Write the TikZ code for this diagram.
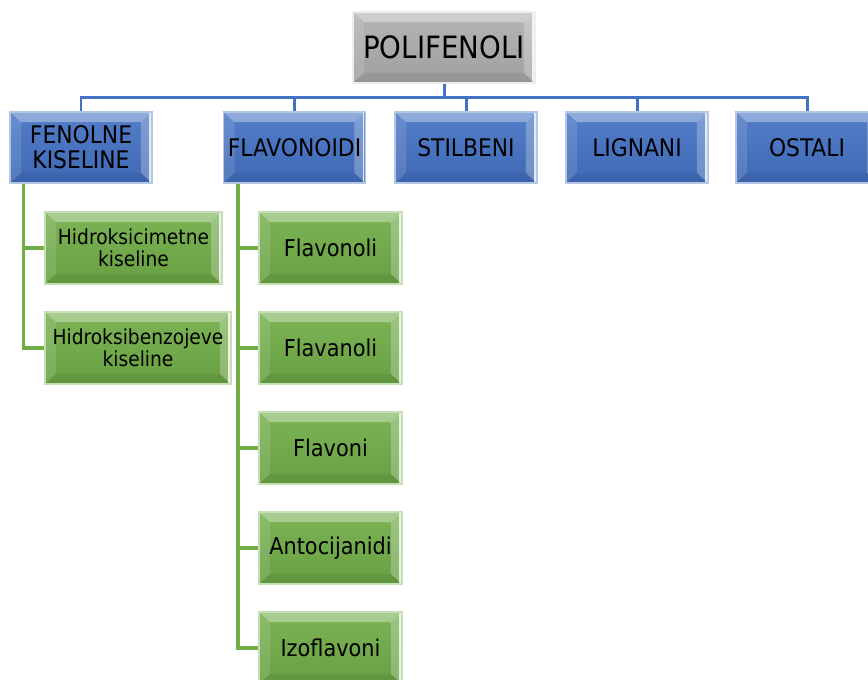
\documentclass[tikz,border=0pt]{standalone}
\usepackage{fontspec}
\setmainfont{DejaVu Sans Condensed}
\usepackage{tikz}
\usetikzlibrary{positioning}
\usepackage{xcolor}
\definecolor{pfblue}{RGB}{68,114,196}
\definecolor{pfgreen}{RGB}{112,173,71}
\definecolor{pfgray}{RGB}{168,168,168}
\tikzstyle{bevel} = [path picture={
  \fill[white,opacity=0.35] (path picture bounding box.north west) -- (path picture bounding box.north east) -- ([shift={(-0.22cm,-0.2cm)}]path picture bounding box.north east) -- ([shift={(0.22cm,-0.2cm)}]path picture bounding box.north west) -- cycle;
  \fill[white,opacity=0.12] (path picture bounding box.north west) -- (path picture bounding box.south west) -- ([shift={(0.22cm,0.2cm)}]path picture bounding box.south west) -- ([shift={(0.22cm,-0.2cm)}]path picture bounding box.north west) -- cycle;
  \fill[white,opacity=0.25] (path picture bounding box.north east) -- (path picture bounding box.south east) -- ([shift={(-0.22cm,0.2cm)}]path picture bounding box.south east) -- ([shift={(-0.22cm,-0.2cm)}]path picture bounding box.north east) -- cycle;
  \draw[white,opacity=0.8,line width=1pt] ([xshift=-0.04cm]path picture bounding box.north east) -- ([xshift=-0.04cm]path picture bounding box.south east);
  \fill[black,opacity=0.06] (path picture bounding box.south west) -- (path picture bounding box.south east) -- ([shift={(-0.22cm,0.2cm)}]path picture bounding box.south east) -- ([shift={(0.22cm,0.2cm)}]path picture bounding box.south west) -- cycle;
}]
\tikzstyle{rootbox} = [rectangle, bevel, minimum width=3.64cm, minimum height=1.42cm, inner sep=0pt, text centered, draw=white!80!pfgray, line width=0.6pt, top color=pfgray!85!white, bottom color=pfgray!95!black, font=\fontsize{17.5}{19}\selectfont]
\tikzstyle{groupbox} = [rectangle, bevel, minimum width=2.84cm, minimum height=1.42cm, inner sep=0pt, align=center, draw=pfblue!40!white, line width=0.6pt, top color=pfblue!92!white, bottom color=pfblue!92!black, font=\fontsize{13.8}{14.4}\selectfont]
\tikzstyle{subbox} = [rectangle, bevel, minimum width=2.86cm, minimum height=1.44cm, inner sep=0pt, align=center, draw=pfgreen!40!white, line width=0.6pt, top color=pfgreen!92!white, bottom color=pfgreen!92!black, font=\fontsize{13.2}{14}\selectfont]
\tikzstyle{bline} = [line width=1.7pt, color=pfblue]
\tikzstyle{gline} = [line width=2pt, color=pfgreen]

\begin{document}
\begin{tikzpicture}[x=0.02cm, y=-0.02cm]
\clip (0,0) rectangle (868,679);
\fill[white] (0,0) rectangle (868,679);
% root
\node[rootbox] (poli) at (444,47.5) {POLIFENOLI};

% main groups
\node[groupbox] (fen) at (81,147.5) {FENOLNE\\KISELINE};
\node[groupbox] (flav) at (294.5,147.5) {FLAVONOIDI};
\node[groupbox] (stil) at (466,147.5) {STILBENI};
\node[groupbox] (lign) at (637,147.5) {LIGNANI};
\node[groupbox] (ost) at (807,147.5) {OSTALI};

\foreach \g in {fen,flav,stil,lign,ost}
  \draw[bline] (poli.south) -- ++(0,14) -| (\g.north);

% phenolic acids
\node[subbox, minimum width=3.54cm, font=\fontsize{11.8}{12.6}\selectfont] (hcim) at (133.5,248) {Hidroksicimetne\\kiseline};
\node[subbox, minimum width=3.72cm, font=\fontsize{11.8}{12.6}\selectfont] (hben) at (138,348) {Hidroksibenzojeve\\kiseline};

\foreach \s in {hcim,hben}
  \draw[gline] ([xshift=0.28cm]fen.south west) |- (\s.west);

% flavonoids
\node[subbox] (fnol) at (330.5,248) {Flavonoli};
\node[subbox] (fanol) at (330.5,348) {Flavanoli};
\node[subbox] (fvon) at (330.5,448) {Flavoni};
\node[subbox] (anto) at (330.5,548) {Antocijanidi};
\node[subbox] (izo) at (330.5,648) {Izoflavoni};

\foreach \s in {fnol,fanol,fvon,anto,izo}
  \draw[gline] ([xshift=0.3cm]flav.south west) |- (\s.west);
\end{tikzpicture}
\end{document}
